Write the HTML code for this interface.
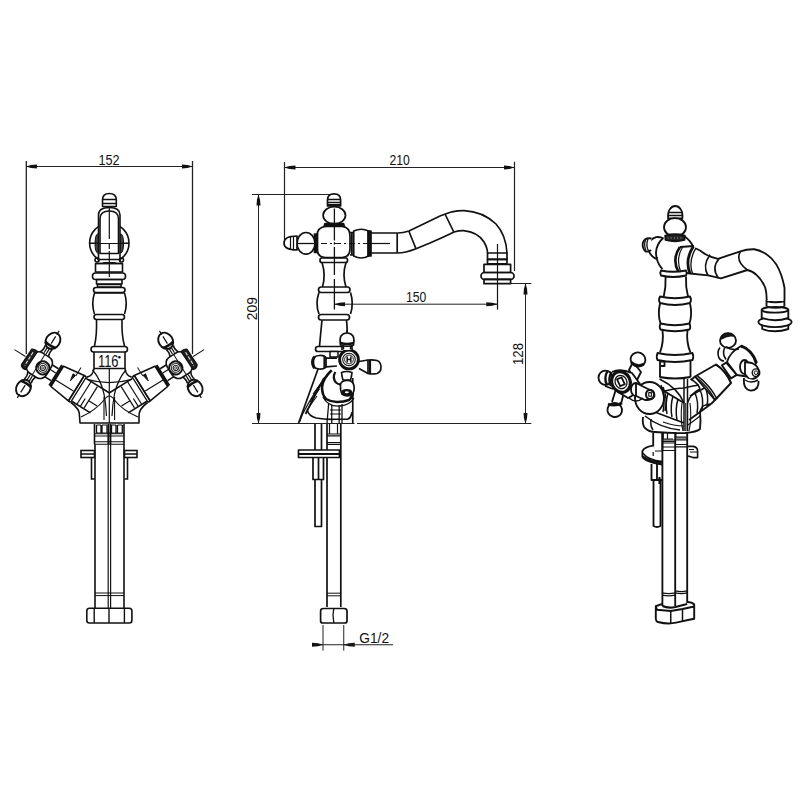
<!DOCTYPE html>
<html><head><meta charset="utf-8">
<style>
html,body{margin:0;padding:0;background:#fff;width:800px;height:800px;overflow:hidden}
svg{display:block}
text{font-family:"Liberation Sans",sans-serif;fill:#111}
</style></head><body>
<svg width="800" height="800" viewBox="0 0 800 800">
<defs>
<marker id="ah" viewBox="0 0 11 5" refX="11" refY="2.5" markerWidth="11" markerHeight="5" markerUnits="userSpaceOnUse" orient="auto-start-reverse"><path d="M0,0.5 L6,1 L11,2.5 L6,4 L0,4.5 z" fill="#111"/></marker>
</defs>
<g id="dims" stroke="#222" stroke-width="1" fill="none">
<!-- 152 -->
<path d="M26.3,161V354M192.5,161V354" stroke-width="1.3"/>
<path d="M26,166.5H192.5" marker-start="url(#ah)" marker-end="url(#ah)"/>
<!-- 210 -->
<path d="M284.5,162V240M514.5,161.7V271" stroke-width="1.2"/>
<path d="M284.5,167.5H514.5" marker-start="url(#ah)" marker-end="url(#ah)"/>
<!-- 209 -->
<path d="M252,194.5H331"/>
<path d="M258.5,194.5V423.5" marker-start="url(#ah)" marker-end="url(#ah)"/>
<path d="M252,423.5H354.5M357,423.5H531.3" stroke-width="1.2"/>
<!-- 128 -->
<path d="M486,283.5H531.3"/>
<path d="M525.5,283.5V423.5" marker-start="url(#ah)" marker-end="url(#ah)"/>
<!-- 150 -->
<path d="M334.4,304.2H497.3" marker-start="url(#ah)" marker-end="url(#ah)"/>
<path d="M497.5,244V309.4"/>
<!-- G1/2 -->
<path d="M323,625V650.6M343.75,625V650.6"/>
<path d="M312,644.75H323" marker-end="url(#ah)"/>
<path d="M355,644.75H343.75" marker-end="url(#ah)"/>
<path d="M323,644.75H393"/>
</g>

<g id="leftview" stroke="#111" stroke-width="1.6" fill="none" stroke-linejoin="round">
 <!-- big circle behind lever -->
 <circle cx="109.3" cy="243" r="19.7"/>
 <ellipse cx="97.6" cy="243.5" rx="2.6" ry="9.5" fill="#444" stroke-width="1"/>
 <ellipse cx="121" cy="243.5" rx="2.6" ry="9.5" fill="#444" stroke-width="1"/>
 <path d="M89.5,243H129" stroke-width="1.2"/>
 <!-- lever -->
 <path d="M98.5,262V215Q98.5,207.5 109.3,207.5Q120,207.5 120,215V262" fill="#fff"/>
 <path d="M100,254V219Q100,211 109.3,211Q118.5,211 118.5,219V254" />
 <path d="M100,253.5H118.5M99,259.5H120M96,263.5H122.5"/>
 <path d="M89.5,243.5H129" stroke-width="1.2"/>
 <circle cx="97" cy="260" r="2"/><circle cx="121.5" cy="260" r="2"/>
 <!-- top knob -->
 <path d="M102.5,206.5V200Q102.5,193.5 109.3,193.5Q116.3,193.5 116.3,200V206.5Z" fill="#fff"/>
 <path d="M102.5,199.5H116.3M102.5,203.5H116.3"/>
 <!-- body stack -->
 <rect x="95.5" y="263.5" width="27" height="8.5"/>
 <rect x="92.5" y="273" width="33" height="6.5" rx="3"/>
 <rect x="96.5" y="279.5" width="25.5" height="4.5"/>
 <rect x="97.5" y="284.5" width="23.5" height="2.5"/>
 <rect x="93.5" y="287.5" width="31.5" height="5" rx="2.5"/>
 <path d="M94.5,293Q91,303.5 94.5,314M124.5,293Q128,303.5 124.5,314M94.5,293H124.5"/>
 <rect x="94" y="314.5" width="30.5" height="5" rx="2.5"/>
 <path d="M96.5,320Q97,335 94.5,346M122,320Q121.5,335 124.5,346"/>
 <rect x="91" y="346.5" width="36.5" height="5.5" rx="2.75"/>
 <path d="M94,352V368.5H125V352"/>

<g id="armR" transform="translate(180.4,364.4) rotate(-32)">
 <!-- segments into body -->
 <path d="M-48,-13.5H-75.6M-48,13.5H-70" />
 <path d="M-54,-13V13M-62,-12.5V12.5M-58,4V13M-62,4H-72" stroke-width="1.2"/>
 <!-- cone -->
 <path d="M-22.5,-12L-45,-15V15L-22.5,12Z" fill="#fff"/>
 <path d="M-45,-15V15M-47.5,-15V15" stroke-width="1.3"/>
 <path d="M-47.5,-15H-45M-47.5,15H-45"/>
 <path d="M-22.5,4H-44" stroke-width="1.2"/>
 <path d="M-36,-3L-34.5,-10.5L-37.5,-10.5Z" fill="#111" stroke-width="0.8"/>
 <path d="M-38,-10V-20" stroke-width="1"/>
 <!-- dark rim -->
 <path d="M-21,-12V12" stroke-width="3"/>
 <!-- narrow -->
 <path d="M-19.5,-7H-11M-19.5,7H-11" />
 <path d="M-19.5,-2H-12" stroke-width="1.2"/>
 <!-- knobs -->
 <path d="M-4.2,-19.8Q-2.6,-16 -5,-11.5M4.2,-19.8Q2.6,-16 5,-11.5M-4.2,19.8Q-2.6,16 -5,11.5M4.2,19.8Q2.6,16 5,11.5"/>
 <ellipse cx="0" cy="-27.8" rx="7" ry="8.6" fill="#fff" stroke-width="1.9"/>
 <ellipse cx="0" cy="27.8" rx="7" ry="8.6" fill="#fff" stroke-width="1.9"/>
 <path d="M-6.3,-23.3Q0,-21.5 6.3,-23.3M-6.3,23.3Q0,21.5 6.3,23.3" stroke-width="2.6"/>
 <path d="M0,-39.5V-35M0,39.5V35M0,-33V-24.5M0,33V24.5M-1.2,-19V-13M1.2,-19V-13M-1.2,19V13M1.2,19V13" stroke-width="1.2"/>
 <!-- housing -->
 <rect x="-12.5" y="-12" width="22" height="24" rx="7" fill="#fff"/>
 <path d="M-0.5,-12V12" stroke-width="1"/>
 <!-- hub -->
 <circle cx="-5.8" cy="0.5" r="6.6" stroke-width="2"/>
 <circle cx="-5.8" cy="0.5" r="4.4" stroke-width="1"/>
 <circle cx="-5.8" cy="0.5" r="2.6" stroke-width="1"/>
 <circle cx="-5.8" cy="0.5" r="1.1" stroke-width="0.8"/>
 <!-- disc -->
 <path d="M7.5,-10.5Q11,-11.5 13.5,-9.5L14,9Q12,12 8,11Z" fill="#222" stroke-width="1.4"/>
 <path d="M10.8,-7.5V8" stroke="#fff" stroke-width="0.9" stroke-dasharray="3.5 1.5"/>
 <path d="M15,0H28" stroke-width="1"/>
</g>
<use href="#armR" transform="translate(218.6,0) scale(-1,1)"/>
<!-- valve body outline -->
<path d="M94,368.5Q93,376 86.9,377.1" />
<path d="M125,368.5Q126,376 131.7,377.1" />
<path d="M71,402.5Q80,409 79.5,416L80,423H139L139,416Q138.6,409 147.6,402.5"/>
<path d="M92.5,369.75Q101,380 104,394Q106,404 106.5,416M126,369.75Q117.5,380 114.5,394Q112.6,404 112,416" stroke-width="1.2"/>
<path d="M109.3,368.5V423" stroke-width="1.2"/>
<path d="M87.25,379.4Q109,386 131.9,379.4" stroke-width="1.2"/>
<path d="M81,417Q96,410 104,400Q107,396 109.3,396Q111.6,396 114.5,400Q122,410 138,417" stroke-width="1.2"/>
<path d="M104,397V420M114.6,397V420" stroke-width="1.1"/>
 <path d="M109.3,208V239M109.3,244V249M109.3,251V277" stroke-width="1.2"/>
</g>

<g id="midview" stroke="#111" stroke-width="1.7" fill="none" stroke-linejoin="round">
 <!-- top knob -->
 <path d="M327.5,206V200Q327.5,193.8 334.2,193.8Q340.6,193.8 340.6,200V206Z" fill="#fff"/>
 <path d="M327.5,199.5H340.6M327.5,202.5H340.6" stroke-width="1.3"/>
 <path d="M328,205H340" stroke-width="2"/>
 <ellipse cx="334.3" cy="215.3" rx="11.2" ry="8.6" fill="#fff"/>
 <path d="M325,223.5H343.5L344.5,227H324Z" fill="#111"/>
 <!-- hub -->
 <path d="M326,226.5H342Q350,227 350,236V248Q350,257.5 342,257.5H326Q317,257.5 317,248V236Q317,227 326,226.5Z" fill="#fff"/>
 <!-- left knob -->
 <path d="M314.5,234V252.5H317.5V234Z" fill="#111"/>
 <ellipse cx="306" cy="243.3" rx="9" ry="10.8" fill="#fff"/>
 <path d="M297,236V250Q284,250 284,243Q284,236 297,236Z" fill="#fff"/>
 <path d="M290.5,237V249.5M293.5,236.5V250" stroke-width="1.2"/>
 <path d="M297,243.5H314" stroke-width="1.3"/>
 <!-- right side -->
 <path d="M350,232.5H353.7V255H350M351.8,232.5V255"/>
 <path d="M353.7,231Q361.5,227.5 368.5,231V256Q361.5,260 353.7,256Z" fill="#fff"/>
 <path d="M368,231V256H371V231Z" fill="#111"/>
 <!-- tube & spout -->
 <path d="M371,233H397.5M371,253H397.5M397.2,233V253" />
 <path d="M397.5,233Q403,233 409,231L440,216Q446,213.5 452,211.8Q458,210.5 464,210.6Q483,211.5 496,224Q506,235 507,253"/>
 <path d="M397.5,253Q405,253 416,248.7L430,243Q446,236 454,232Q459,230.5 463.5,230.6Q478,232 484,242Q487.5,248 487.5,253"/>
 <path d="M408.8,231L416,248.7M445,214L453.8,232"/>
 <path d="M371,243.5H390" stroke-width="1.2"/>
 <!-- aerator -->
 <rect x="487.5" y="253" width="19.5" height="6.4"/>
 <rect x="487.5" y="259.4" width="19.5" height="4.4"/>
 <rect x="484" y="264.4" width="26.6" height="8.1"/>
 <rect x="481" y="272.5" width="33" height="6.9" rx="3.4"/>
 <rect x="484" y="279.4" width="26.6" height="4.3"/>
 <path d="M497.5,244V309.4" stroke-width="1.2"/>
 <!-- dashed center lines -->
 <path d="M321,243.5H390" stroke-width="1.2" stroke-dasharray="6 3 2 3"/>
 <path d="M334.4,208.5V240.5M334.4,242.3V244.5M334.4,247V275M334.4,279V309.6" stroke-width="1.3"/>
 <!-- body stack -->
 <rect x="320" y="258" width="27.5" height="4.5" rx="2"/>
 <path d="M322,262.5Q326,275 322.5,287M346,262.5Q342,275 346,287"/>
 <rect x="318.5" y="287" width="31.5" height="5.5" rx="2.7"/>
 <path d="M319,292.5Q315,303.5 319,314M350.5,292.5Q354,303.5 350.5,314"/>
 <rect x="318.5" y="314.5" width="31" height="5.5" rx="2.7"/>
 <path d="M322,320Q320.5,335 319.5,346.5M346.5,320Q347.5,330 347,333"/>
 <rect x="315.5" y="346.5" width="30" height="5" rx="2.5"/>

 <!-- lower body -->
 <path d="M318.2,368.5L298.5,423.2"/>
 <path d="M323.9,378L305.5,414"/>
 <path d="M330,372Q316,390 307.5,405Q302,414 299.5,422" stroke-width="1.3"/>
 <path d="M321,383L313,394M319.5,389L310,402M317,396L307,410" stroke-width="1.1"/>
 <path d="M331.75,370.25Q323,378 322,387Q322,395 326,399Q331,402 337,402Q344,402 349,400Q353,397 353,390" stroke-width="2.6"/>
 <path d="M323,397Q328,407 340,406Q350,405 354,398" stroke-width="1.4"/>
 <path d="M335.25,372Q332,378 336,382.5Q339,385 341,384" stroke-width="2.2"/>
 <path d="M307.25,410.5Q309,416 316,418Q325,419.5 334.4,419.25H347.5Q351,418 352,412.25" />
 <path d="M352.75,378V423.2" />
 <path d="M328.7,403L327,423M331.75,405V423M339.2,405V423M342,404V423" stroke-width="1.3"/>
 <path d="M330,410H341M330,414H341" stroke-width="1.1"/>
 <!-- front handle -->
 <rect x="330" y="351.5" width="8" height="5.5" fill="#fff" stroke-width="1.5"/>
 <path d="M326,358.2H337M326,366.8L337,366" />
 <path d="M359,361.5L368,360M359,368.5L368,373.5"/>
 <path d="M368,360Q373,359.5 377,360.5Q381,362 381,367Q381,372 377,373.5Q372,374.5 368,373.5Z" fill="#fff"/>
 <path d="M370,360V373.8" stroke-width="2.2"/>
 <path d="M319,355.5Q324,355 326,357.5V367Q324,369.5 319,369Q312,368.5 312,362.3Q312,356 319,355.5Z" fill="#fff"/>
 <path d="M314.5,356.5Q311,362 314.5,368.2" stroke-width="3"/>
 <path d="M324.5,356V368.5" stroke-width="2.2"/>
 <circle cx="349" cy="359.5" r="9.4" stroke-width="2.9" fill="#fff"/>
 <circle cx="349" cy="359.5" r="6.3" stroke-width="1.1"/>
 <circle cx="349" cy="359.5" r="4.4" stroke-width="0.9"/>
 <path d="M347.2,356.5V362.5M350.8,356.5V362.5M347.2,359.5H350.8" stroke-width="1.5"/>
 <path d="M342,350V346H352V350" fill="#fff"/>
 <path d="M340.5,345Q339.5,339 341,336Q343,333 347,333Q351,333 353,336Q354.5,339 353.5,345Q347,347.5 340.5,345Z" fill="#fff"/>
 <path d="M340.5,343Q347,345 353.5,343" stroke-width="2.6"/>
 <path d="M343,346Q344,348 343.5,349.5M351,346Q350,348 350.5,349.5" stroke-width="1.3"/>
 <path d="M347,330V333" stroke-width="1.2"/>
 <path d="M341.5,372.5Q346.5,370.5 352,372.5Q351.5,377 350.5,380H343Q342,377 341.5,372.5Z" fill="#fff"/>
 <path d="M340.5,386Q340,381 346.5,380.5Q353,380 354,386Q355,392 351,395Q346,397 342,394Q340,390 340.5,386Z" fill="#fff"/>
 <ellipse cx="346.8" cy="392.5" rx="4.6" ry="2.6" fill="#111"/>
 <ellipse cx="346.8" cy="392.3" rx="2" ry="1" fill="#fff" stroke="none"/>
 <!-- pipes -->
 <path d="M315,424V450M321.5,424V450M327,424V607M340.8,424V607"/>
 <path d="M327,434H340.8M327,435.8H340.8M327,442.5H340.8M327,444.3H340.8M329.5,424V434M337.5,424V434" stroke-width="1.2"/>
 <rect x="298.5" y="450" width="41" height="7.5" fill="#fff"/>
 <path d="M298.5,454H339.5" stroke-width="1.8"/>
 <path d="M313,457.5V479.5H323.5V457.5M318.5,457.5V479.5"/>
 <path d="M315,479.5V526.5H321.5V479.5"/>
 <path d="M327,593.2H340.8M327,595.8H340.8" stroke-width="1"/>
 <path d="M323.5,608.5Q320.6,608.5 320.6,611V621Q320.6,623 323,623H344.5Q347,623 347,621V611Q347,608.5 344,608.5Z"/>
 <path d="M333.8,608.5L333,615L333.8,623" stroke-width="1.3"/>
</g>

<g id="rightview" stroke="#111" stroke-width="1.85" fill="none" stroke-linejoin="round">

 <!-- spout -->
 <path d="M695,248Q700,250 705,254Q711,257.5 718,258.8L740.5,251.3Q747,249 754.3,249.25Q768,252 776.3,264.4Q782,274 784.5,287.75V300"/>
 <path d="M690,273.5L708,275.3L721,278.3L747.4,270Q752.5,271 757,275.4Q762,280 765.3,287.75Q766.7,293 766.7,300"/>
 <path d="M740.5,251.3Q735,261 747.4,270" stroke-width="1.6"/>
 <path d="M710,254.8Q702,266 708,275.5M719,258.7Q711,268 718.5,278.2" stroke-width="1.6"/>
 <!-- aerator -->
 <path d="M766.5,300V306.5M784.4,300V306.5M766.5,301Q775.5,303.5 784.4,301"/>
 <path d="M762.2,325V329Q775,333.5 788.3,329V325" fill="#fff"/>
 <ellipse cx="775" cy="322" rx="16.6" ry="5.2" fill="#fff"/>
 <path d="M761.7,309.8V318Q775,322.5 788.3,318V309.8Z" fill="#fff"/>
 <ellipse cx="775" cy="309.8" rx="13.3" ry="2.9" fill="#fff"/>
 <path d="M766.5,306.5Q775.5,309.5 784.4,306.5" stroke-width="1.7"/>
 <!-- collars -->
 <path d="M680,247L694,246Q700,247 695,248L690,273.5L678.5,272Z" fill="#fff" stroke="none"/>
 <path d="M680,247L694,246M678.5,272L690,273.5"/>
 <path d="M680,247Q671.5,259 678.5,272" stroke-width="2.6"/>
 <path d="M682.5,247.2Q675.5,259 680.8,272.3" stroke-width="1.2"/>
 <path d="M693.5,246.2Q684.5,260 690,273.5" stroke-width="2.8"/>
 <path d="M696,247.8Q688,261 692.5,273.8" stroke-width="1.3"/>
 <!-- top knob & ball -->
 <path d="M668.2,219Q667.5,212 670,209Q672,206 675.2,206Q678.5,206 680.5,209Q683,212 682.3,219Z" fill="#fff"/>
 <path d="M668,212.5H682.5M668.5,215.5H682" stroke-width="1.3"/>
 <path d="M668.5,218.5H682" stroke-width="2"/>
 <ellipse cx="675" cy="227.3" rx="11" ry="9.2" fill="#fff"/>
 <path d="M665.2,235.5Q675,233 684.8,235.5L684.5,240Q675,242.5 665.5,240Z" fill="#222" stroke-width="1.8"/>
 <path d="M667.5,238H683" stroke="#bbb" stroke-width="0.9" stroke-dasharray="1 2.2"/>
 <!-- left knob -->
 <path d="M663.5,238.5Q660,236.5 656,237.2Q650,239 648,246Q648,254 655.2,258.4Q657,259 657,257" fill="#fff"/>
 <path d="M651.5,238.5Q645,237 642.8,243Q642,249 646,251.6Q649,252 651,250" fill="#fff" stroke-width="1.9"/>
 <path d="M645.5,240Q643.5,245 646,250.5M648,239Q645.5,245 648.5,251" stroke-width="1.3"/>
 <!-- hub sphere -->
 <path d="M663.2,238Q656.5,244 656,252.4Q656,262 662.4,269.2"/>
 <path d="M684,236Q690,240 692.8,246"/>
 <!-- body stack -->
 <path d="M661,270.5Q673,273 686,270.5Q687.5,273 686,275.5Q673,278.5 661,275.5Q659.5,273 661,270.5Z" fill="#fff"/>
 <path d="M665.6,276.5Q666,287 663.75,296.5M686,276.5Q685.5,287 688,296.5"/>
 <path d="M660,296.5Q675,300 690,296.5Q692,300 690,303Q675,307 660,303Q658,300 660,296.5Z" fill="#fff"/>
 <path d="M660,303.5Q657.5,314 660.5,323.5M690,303.5Q692.5,314 689.5,323.5"/>
 <path d="M660.5,323.5Q675,327 689.5,323.5Q691,327 689.5,329.5Q675,333 660.5,329.5Q659,327 660.5,323.5Z" fill="#fff"/>
 <path d="M662.5,330Q664,342 660,352.5M687.5,330Q686,342 690.5,352.5"/>
 <path d="M657.5,353Q675,357 692.5,353Q694,357 692.5,360Q675,364 657.5,360Q656,357 657.5,353Z" fill="#fff"/>
 <path d="M660,360.5V377M690.5,360.5V377M661,361.5H664.5V366H661" />
 <!-- valve body -->
 <path d="M659.5,377Q675,380 690.5,377"/>
 <!-- web -->
 <path d="M684,379V431M687.5,379V431" stroke-width="1.5"/>
 <path d="M682,403Q680,418 683,431M690,403Q692,418 689,431M685.8,403V431" stroke-width="1.1"/>
 <path d="M659.5,379Q678,388 684,403" stroke-width="1.6"/>
 <path d="M690.5,379Q698,383 700,389" stroke-width="1.6"/>
 <path d="M665,391Q676,388 684,388Q692,386 699,385" stroke-width="1.5"/>
 <path d="M687.5,403Q690,394 700,389" stroke-width="1.5"/>
 
 <!-- base -->
 <path d="M643,417Q642,425 645,428Q649,432 655,432Q672,433.5 685,433Q697,432 700,429Q701,421 700,411" stroke-width="1.8"/>
 <path d="M651,419Q650,426 653,430" stroke-width="1.5"/>
 <path d="M645,416Q660,428 680,430" stroke-width="1.5"/>
 <path d="M663,422Q674,426 684,426M688,425Q695,420 700,416" stroke-width="1.2"/>
 <!-- left arm -->
 <path d="M664,391L684,403M656,412.5L684,423" stroke-width="1.8"/>
 <path d="M668,393Q665,403 667,414M673,396Q670,406 672,417M678,399Q675,409 677,420" stroke-width="1.5"/>
 <ellipse cx="649.5" cy="398" rx="14.5" ry="16" fill="#fff" stroke-width="1.9"/>
 <path d="M661,385Q666,398 663,412M663,387Q668,398 665,411" stroke-width="1.5"/>
 <!-- right arm -->
 <path d="M689,420L711,404M690,396L708,386" stroke-width="1.8"/>
 <path d="M695,393Q699,402 697,413M700,390Q704,398 702,410M705,387Q709,395 707,406" stroke-width="1.5"/>
 <path d="M700,411Q702,404 711,404" stroke-width="1.5"/>
 <path d="M695,376.5L716,364.5Q726,371 731,383L715,400Z" fill="#fff" stroke-width="1.9"/>
 <path d="M695,376.5Q708,386 715,400M696.8,375.4Q709.8,385 717,399" stroke-width="1.5"/>
 <path d="M716,364.5Q726,371 731,383" stroke-width="1.9"/>
 <path d="M691,380L695,376.5M711,404L715,400" stroke-width="1.8"/>
 <!-- right handle -->
 <path d="M721.9,365.2L726.25,362.6L736.75,374.9L731,378.4Z" fill="#fff"/>
 <path d="M727,362Q730,352 741,346Q752,350 756,363L750,377L737,375Z" fill="#fff"/>
 <path d="M741,346Q752,350 756.5,363" stroke-width="3"/>
 <path d="M742.5,348.5Q750,352 753,360" stroke="#fff" stroke-width="0.8"/>
 <ellipse cx="728" cy="340.5" rx="8" ry="7.3" fill="#fff"/>
 <path d="M721.5,339Q722,333.5 728,333.5Q732,334 733,336Q728,335 721.5,339Z" fill="#222" stroke-width="1.4"/>
 <path d="M726,346.5Q731,351 739,349M720,347.5Q716.5,352 719,358Q721,361 724,361M724.5,348Q722,354 726,359.5" stroke-width="1.6"/>
 <ellipse cx="744.5" cy="367" rx="4.5" ry="7" fill="#fff"/>
 <path d="M745,362L752,363Q760,367 759,374Q756,380 749,379L745,374Z" fill="#fff"/>
 <circle cx="756" cy="372.7" r="3.8" stroke-width="1.4"/>
 <circle cx="756" cy="372.7" r="1.8" stroke-width="1"/>
 <path d="M744,378Q743,390 751,390.6Q759,390 758.6,381" fill="#fff"/>
 <path d="M745,380Q751,384 758,380" stroke-width="1.5"/>
 <!-- left handle -->
 <path d="M629,370L633,362Q637,367 641,372L636,382Z" fill="#fff"/>
 <ellipse cx="638" cy="359.5" rx="7.5" ry="7" fill="#fff" transform="rotate(25 638 359.5)"/>
 <path d="M631,362Q637,368 644,364" stroke-width="2.6"/>
 <path d="M611,380L604,379M613,389L605,386"/>
 <ellipse cx="605.5" cy="377.8" rx="7" ry="7.2" fill="#fff"/>
 <path d="M607.5,371Q603.5,378 607,385M611.5,372Q607.5,379 611,386" stroke-width="2.4"/>
 <path d="M616,389L612,402M624,392L621,404"/>
 <ellipse cx="614.75" cy="410" rx="7.3" ry="7" fill="#fff" transform="rotate(15 614.75 410)"/>
 <path d="M608,404Q615,407 622,403" stroke-width="2.6"/>
 <path d="M612,372Q620,368 632,373L640,384Q636,395 628,398L618,392" fill="#fff"/>
 <ellipse cx="621" cy="382" rx="9.2" ry="10.6" stroke-width="3.2" fill="#fff" transform="rotate(-25 621 382)"/>
 <ellipse cx="621" cy="382" rx="5.8" ry="6.8" stroke-width="1.3" transform="rotate(-25 621 382)"/>
 <rect x="618.5" y="378" width="5" height="7.5" stroke-width="1.8" transform="rotate(-25 621 382)"/>
 <ellipse cx="635.5" cy="389.5" rx="4.5" ry="6.5" fill="#fff"/>
 <path d="M636,383L649,389.5Q655,391 654.5,396Q652,400.5 645,400L636,396Z" fill="#fff"/>
 <ellipse cx="650" cy="394.5" rx="4" ry="4.6" stroke-width="2"/>
 <rect x="648.8" y="392.6" width="2.6" height="3.6" stroke-width="1.1"/>
 <path d="M629,398Q636,404 643,398" stroke-width="1.5"/>
 <!-- pipes -->
 <path d="M662.4,432.8V606M675.2,432V606M687.2,432V603"/>
 <path d="M653.2,433V451M662.4,433V451" />
 <path d="M663.2,433V439H667M667.5,433V439H673M675.8,433V437H686" stroke-width="1.2"/>
 <path d="M662.4,440H675.2M662.4,441.5H675.2M662.4,443H675.2M662.4,447H675.2M662.4,450.5H675.2" stroke-width="1.2"/>
 <path d="M675.2,438H687.2M675.2,439.8H687.2M675.2,444.5H687.2M675.2,446.8H687.2" stroke-width="1.2"/>
 <!-- bracket -->
 <path d="M653,445.6Q644,447 642.4,451.2V456.5Q645,462 662.4,464.5" fill="#fff"/>
 <path d="M642.6,453Q648,460 662.4,461.5M643,456.5Q650,462 662.4,463" stroke-width="1.6"/>
 <path d="M653.2,452V456M655,451H662.4" stroke-width="1.2"/>
 <path d="M687.5,446.4H693Q697.6,447 697.6,451V457.6H693L688,456" stroke-width="1.6"/>
 <path d="M690,452H697M689,449.5H694" stroke-width="1.2"/>
 <path d="M651.5,464V480H662.4M657,464V480" />
 <path d="M653.5,480V526Q657,528 660.5,526V480"/>
 <path d="M659.5,477V484" stroke-width="2.2"/>
 <path d="M662.4,592.8Q668.5,594.3 675.2,592.8M662.4,595.2Q668.5,596.7 675.2,595.2" stroke-width="1.3"/>
 <path d="M675.2,590.9Q681.5,592.4 687.2,590.9M675.2,592.8Q681.5,594.3 687.2,592.8" stroke-width="1.3"/>
 <path d="M655.8,606.2Q662,604 662.4,604M687.2,602Q692,602 694.2,604.5" />
 <path d="M655.8,606.2V619Q656,621.5 658,622Q665,623.8 670.75,623.4Q676,623 681.8,621.4Q688,620 694.2,618.8V604.5L694.2,606.5L682.5,609L670.75,611L657,609.7Z" fill="#fff" stroke-width="1.9"/>
 <path d="M670.75,611V623.4M682.5,609V621.4" stroke-width="1.5"/>
 <path d="M662.4,606Q668,608.5 675.5,607Q681,605.5 687.2,604" stroke-width="2.2"/>
</g>

<g id="leftbottom" stroke="#111" stroke-width="1.6" fill="none">
 <path d="M94.5,424V444M124,424V444" /><path d="M94.5,433.8H124M94.5,436H124M94.5,441.8H124M94.5,444.2H124" stroke-width="1.1"/>
 <path d="M96.5,425H101M102,425H107M111.5,425H116M117.5,425H122.3M96.5,433H122.3" stroke-width="1"/>
 <path d="M96.5,425V433M101,425V433M102,425V433M107,425V433M111.5,425V433M116,425V433M117.5,425V433M122.3,425V433" stroke-width="1.3"/>
 <path d="M108.3,424V444M110.5,424V444" stroke-width="1.8"/>
 <path d="M95,444V608M124,444V608"/><path d="M108.2,444V608M110.6,444V608" stroke-width="1.2"/>
 <rect x="81" y="450.5" width="13.5" height="7"/>
 <rect x="124.5" y="450.5" width="12.5" height="7"/>
 <path d="M81,454H94.5M124.5,454H137" stroke-width="1.6"/>
 <path d="M91.5,457.5V479H94.5M127.5,457.5V479H124.5" />
 <path d="M95,593H124M95,595.6H124" stroke-width="1"/>
 <path d="M89.5,608.3H129.3Q131.9,608.3 131.9,611V620.5Q131.9,623 129.3,623H89.5Q86.8,623 86.8,620.5V611Q86.8,608.3 89.5,608.3Z"/>
 <path d="M94.2,608.3V623M109,608.3V623M124.4,608.3V623" stroke-width="1.4"/>
</g>
<g id="labels">
<text transform="translate(98.45,164.8) scale(0.885,1)" font-size="14.29" font-family="Liberation Sans">152</text>
<text transform="translate(389.39,165.4) scale(0.820,1)" font-size="14.86" font-family="Liberation Sans">210</text>
<text transform="translate(405.89,302) scale(0.849,1)" font-size="14.29" font-family="Liberation Sans">150</text>
<text transform="translate(359.31,642.75) scale(0.980,1)" font-size="14.00" font-family="Liberation Sans">G1/2</text>
<text transform="translate(256.75,320.19) rotate(-90) scale(0.900,1)" font-size="15.36">209</text>
<text transform="translate(523,364.99) rotate(-90) scale(0.925,1)" font-size="14.29">128</text>
<text transform="translate(97.90,366.6) scale(0.781,1)" font-size="16.62" font-family="Liberation Serif">116</text><circle cx="119.4" cy="357.3" r="1.25" fill="#111"/>
</g>
</svg>
</body></html>
